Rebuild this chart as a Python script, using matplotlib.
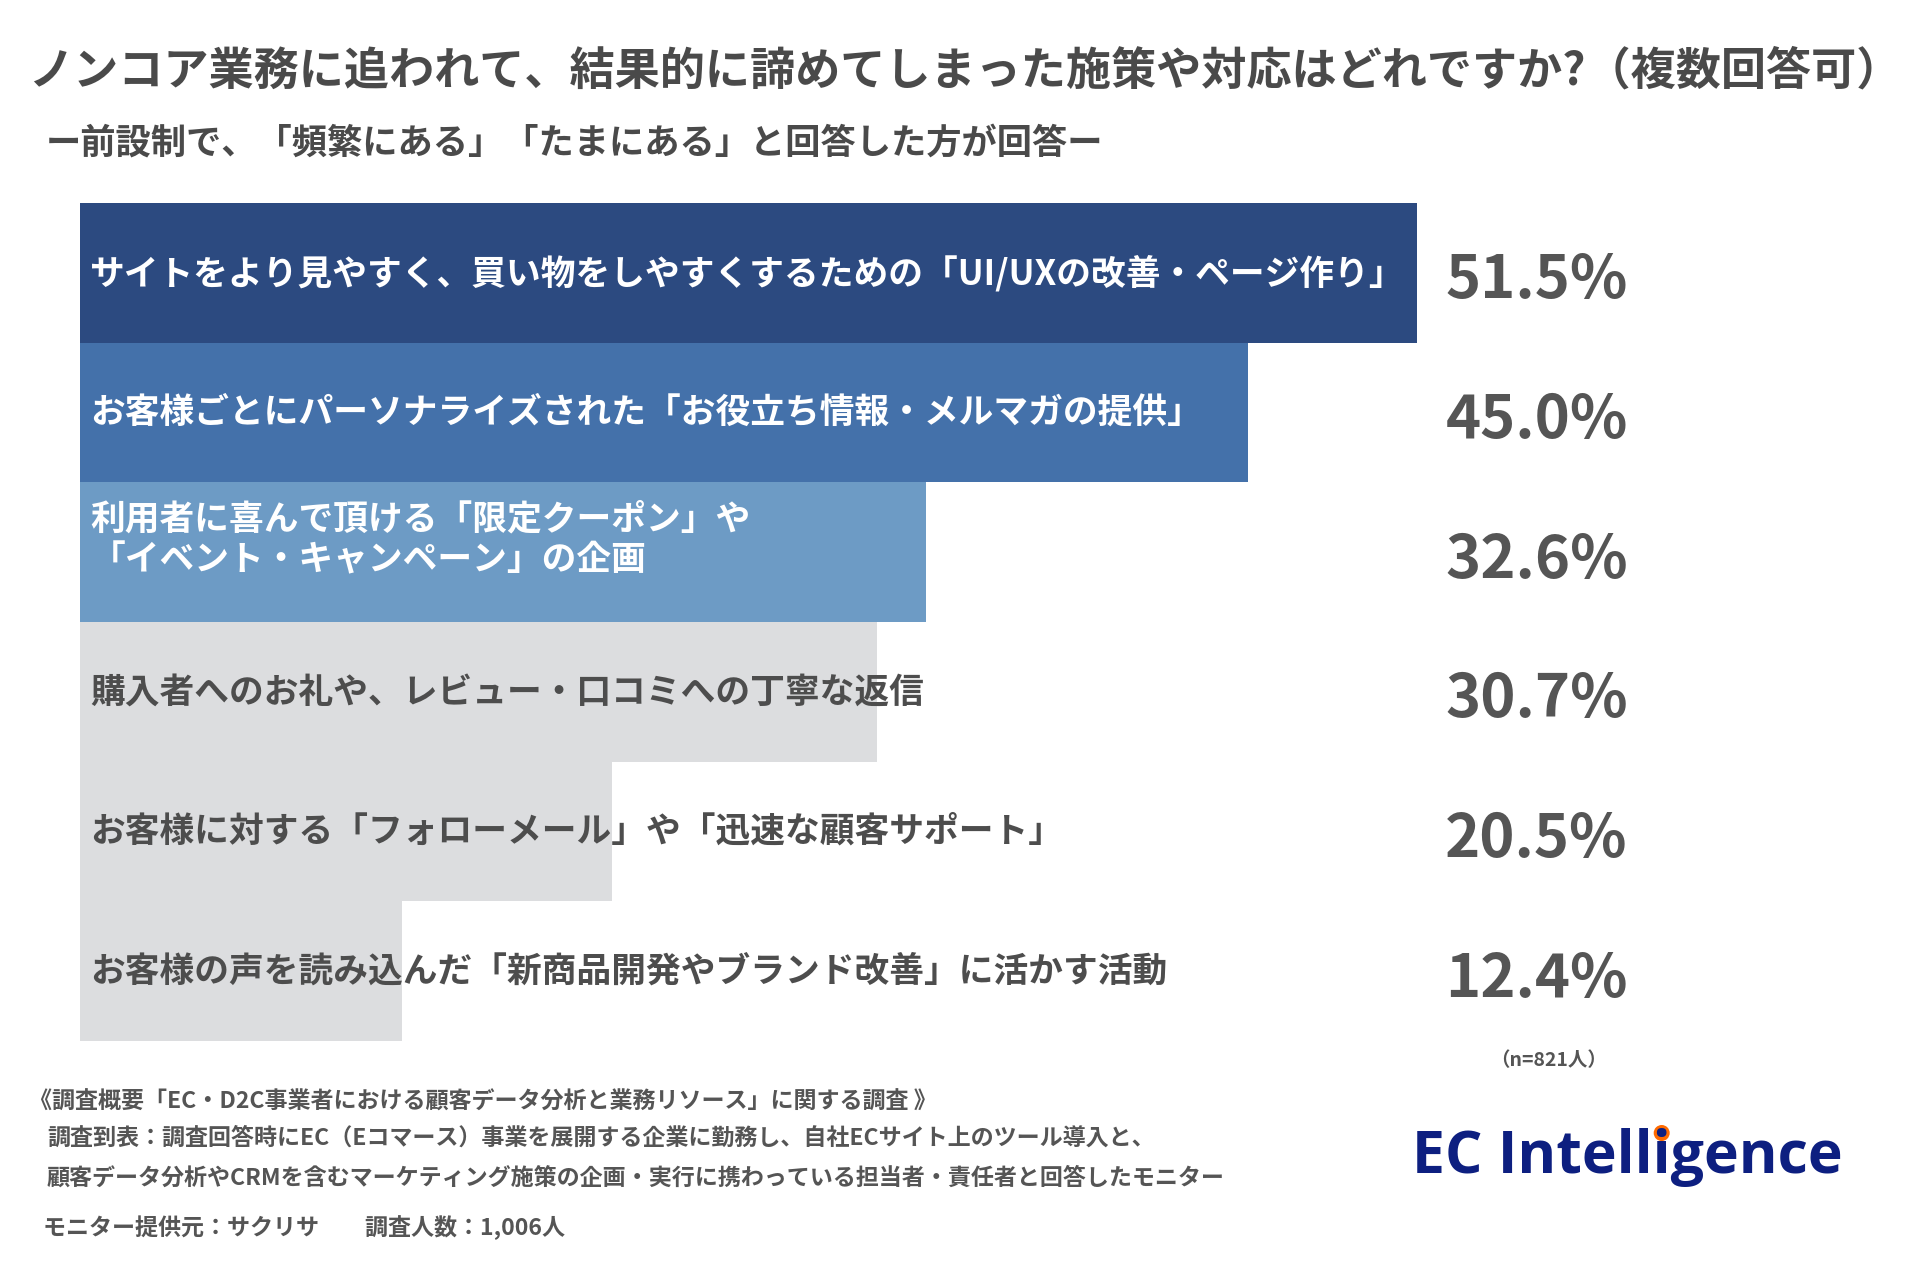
import numpy as np
import matplotlib.pyplot as plt
from matplotlib.patches import Ellipse

plt.rcParams['font.family'] = ['Noto Sans CJK JP', 'DejaVu Sans']

# データ
labels = [
    'サイトをより見やすく、買い物をしやすくするための「UI/UXの改善・ページ作り」',
    'お客様ごとにパーソナライズされた「お役立ち情報・メルマガの提供」',
    '利用者に喜んで頂ける「限定クーポン」や\n「イベント・キャンペーン」の企画',
    '購入者へのお礼や、レビュー・口コミへの丁寧な返信',
    'お客様に対する「フォローメール」や「迅速な顧客サポート」',
    'お客様の声を読み込んだ「新商品開発やブランド改善」に活かす活動',
]
values = [51.5, 45.0, 32.6, 30.7, 20.5, 12.4]

title = 'ノンコア業務に追われて、結果的に諦めてしまった施策や対応はどれですか?（複数回答可）'
subtitle = 'ー前設制で、「頻繁にある」「たまにある」と回答した方が回答ー'
n_note = '（n=821人）'
footer = [
    '《調査概要「EC・D2C事業者における顧客データ分析と業務リソース」に関する調査 》',
    '調査到表：調査回答時にEC（Eコマース）事業を展開する企業に勤務し、自社ECサイト上のツール導入と、',
    '顧客データ分析やCRMを含むマーケティング施策の企画・実行に携わっている担当者・責任者と回答したモニター',
    'モニター提供元：サクリサ　　調査人数：1,006人',
]

bar_colors = ['#2c4a80', '#4471aa', '#6d9bc5', '#dcdddf', '#dcdddf', '#dcdddf']
text_colors = ['white', 'white', 'white', '#4d4d4d', '#4d4d4d', '#4d4d4d']
grey = '#4a4a4a'

W, H = 1920, 1280
fig = plt.figure(figsize=(W / 100, H / 100), dpi=100)
fig.patch.set_facecolor('white')

ax = fig.add_axes([80 / W, 1 - 1041 / H, 1820 / W, (1041 - 203) / H])
y = np.arange(len(values))
ax.barh(y, values, height=1.0, color=bar_colors, linewidth=0)
ax.set_xlim(0, 70.1)
ax.set_ylim(len(values) - 0.5, -0.5)
ax.axis('off')

for i, (lab, v) in enumerate(zip(labels, values)):
    dy = -0.09 if '\n' in lab else 0.0
    ax.text(0.4, i + dy, lab, ha='left', va='center', fontsize=25, fontweight='bold',
            color=text_colors[i], linespacing=1.2)
    ax.text(56.1, i + 0.06, f'{v:.1f}%', ha='center', va='center', fontsize=43,
            fontweight='bold', color='#555555')

# タイトル
fig.text(28 / W, 1 - 71 / H, title, ha='left', va='center', fontsize=32.5,
         fontweight='bold', color=grey)
fig.text(46 / W, 1 - 143 / H, subtitle, ha='left', va='center', fontsize=25.4,
         fontweight='bold', color=grey)

fig.text(1549 / W, 1 - 1061 / H, n_note, ha='center', va='center', fontsize=14,
         fontweight='bold', color='#555555')

# 注記
foot_x = [29, 47, 47, 43]
foot_y = [1102, 1138, 1178, 1228]
for fx, fy, line in zip(foot_x, foot_y, footer):
    fig.text(fx / W, 1 - fy / H, line, ha='left', va='center', fontsize=16.6,
             fontweight='bold', color='#555555')

# ロゴ
logo_kw = dict(ha='left', va='baseline', fontsize=42.5, fontweight='bold',
               color='#0d1f80', family=['Open Sans', 'DejaVu Sans'])
logo = fig.text(1412 / W, 1 - 1173 / H, 'EC Intelligence', **logo_kw)
fig.canvas.draw()
r = fig.canvas.get_renderer()
tmp = fig.text(1412 / W, 1 - 1173 / H, 'EC Intell', **logo_kw)
w1 = tmp.get_window_extent(r).width
tmp.set_text('EC Intelli')
w2 = tmp.get_window_extent(r).width
tmp.remove()
dot_x = 1412 + (w1 + w2) / 2
fig.add_artist(Ellipse((dot_x / W, 1 - 1133 / H), 16 / W, 16 / H, transform=fig.transFigure,
                       facecolor='#ff6a00', edgecolor='none'))

fig.savefig('out.png', dpi=100)
